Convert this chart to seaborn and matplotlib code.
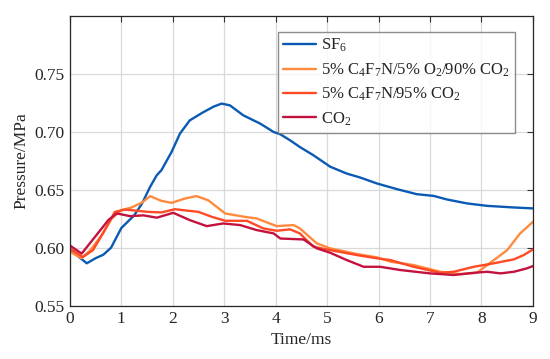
import pandas as pd
import matplotlib.pyplot as plt
import seaborn as sns

# values
sf6_t = [0, 0.15, 0.33, 0.5, 0.65, 0.8, 1.0, 1.25, 1.4, 1.56, 1.69, 1.78, 1.98, 2.14, 2.33, 2.59, 2.8,
         2.95, 3.11, 3.37, 3.70, 3.96, 4.09, 4.28, 4.47, 4.73, 5.06, 5.38, 5.64, 5.97, 6.36, 6.74, 7.07,
         7.33, 7.72, 8.11, 8.63, 9.0]
sf6_p = [0.598, 0.593, 0.5866, 0.591, 0.594, 0.600, 0.617, 0.628, 0.638, 0.6526, 0.6627, 0.667, 0.683,
         0.6986, 0.710, 0.717, 0.722, 0.7245, 0.723, 0.7144, 0.7072, 0.700, 0.698, 0.6928, 0.687, 0.680,
         0.670, 0.6641, 0.6607, 0.6555, 0.6506, 0.6463, 0.6448, 0.6417, 0.6383, 0.6362, 0.6348, 0.634]

mix_o2_t = [0, 0.23, 0.4, 0.62, 0.81, 1.0, 1.2, 1.4, 1.56, 1.78, 1.98, 2.24, 2.46, 2.69, 3.02, 3.40,
            3.63, 4.02, 4.35, 4.47, 4.80, 5.06, 5.58, 5.97, 6.23, 6.68, 7.2, 7.59, 7.91, 8.17, 8.50,
            8.75, 9.0]
mix_o2_p = [0.5966, 0.591, 0.598, 0.611, 0.625, 0.6325, 0.6348, 0.639, 0.6446, 0.6405, 0.6388, 0.6426,
            0.6446, 0.641, 0.6296, 0.6267, 0.6253, 0.6187, 0.6196, 0.6167, 0.6038, 0.5995, 0.5946,
            0.5917, 0.588, 0.5851, 0.5793, 0.5773, 0.5784, 0.587, 0.598, 0.6124, 0.6224]

mix_t = [0, 0.25, 0.45, 0.65, 0.875, 1.07, 1.52, 1.78, 2.04, 2.50, 2.76, 3.02, 3.44, 3.76, 4.02, 4.28,
         4.47, 4.73, 5.06, 5.58, 5.97, 6.23, 6.68, 7.2, 7.46, 7.85, 8.24, 8.63, 8.82, 9.0]
mix_p = [0.5995, 0.592, 0.598, 0.613, 0.631, 0.633, 0.631, 0.6305, 0.6333, 0.631, 0.6267, 0.6233,
         0.6233, 0.6167, 0.6147, 0.6159, 0.6124, 0.601, 0.598, 0.5937, 0.5909, 0.5894, 0.5836, 0.5784,
         0.5793, 0.5836, 0.5866, 0.590, 0.5937, 0.5986]

co2_t = [0, 0.23, 0.49, 0.75, 0.91, 1.17, 1.43, 1.69, 2.01, 2.33, 2.66, 2.98, 3.31, 3.63, 3.96, 4.09,
         4.54, 4.80, 5.06, 5.38, 5.71, 6.03, 6.42, 7.0, 7.46, 7.85, 8.11, 8.37, 8.63, 8.88, 9.0]
co2_p = [0.602, 0.595, 0.6095, 0.624, 0.6297, 0.6273, 0.628, 0.626, 0.6302, 0.6239, 0.6187, 0.621,
         0.6196, 0.6153, 0.6124, 0.608, 0.6072, 0.5995, 0.5957, 0.5894, 0.5836, 0.5836, 0.5808, 0.5779,
         0.5765, 0.5784, 0.5793, 0.5779, 0.5793, 0.5822, 0.5842]

labels = [r"SF$_6$",
          r"5% C$_4$F$_7$N/5% O$_2$/90% CO$_2$",
          r"5% C$_4$F$_7$N/95% CO$_2$",
          r"CO$_2$"]
colors = ["#0A5AB4", "#FF8A3D", "#FF4A26", "#C4123E"]

frames = []
for lab, t, p in zip(labels, [sf6_t, mix_o2_t, mix_t, co2_t], [sf6_p, mix_o2_p, mix_p, co2_p]):
    frames.append(pd.DataFrame({"time": t, "pressure": p, "gas": lab}))
df = pd.concat(frames, ignore_index=True)

sns.set_style("white")
plt.rcParams["font.family"] = ["Liberation Serif", "DejaVu Serif"]
plt.rcParams["mathtext.fontset"] = "custom"
plt.rcParams["mathtext.rm"] = "Liberation Serif"
plt.rcParams["mathtext.it"] = "Liberation Serif:italic"
plt.rcParams["mathtext.default"] = "rm"

fig = plt.figure(figsize=(5.5, 3.59), dpi=100)
ax = fig.add_axes([0.127, 0.1485, 0.842, 0.8065])
sns.lineplot(data=df, x="time", y="pressure", hue="gas", palette=colors, hue_order=labels,
             linewidth=1.7, ax=ax, sort=True, estimator=None)

ax.set_xlim(0, 9)
ax.set_ylim(0.55, 0.80)
ax.set_xticks(range(0, 10))
ax.set_yticks([0.55, 0.60, 0.65, 0.70, 0.75])
ax.set_yticklabels(["0.55", "0.60", "0.65", "0.70", "0.75"])
ax.grid(True, color="#d9d9d9", linewidth=0.9)
ax.tick_params(direction="in", top=True, right=True, labelsize=12.5, length=4, color="#333333")
for s in ax.spines.values():
    s.set_color("#262626")
    s.set_linewidth(0.9)
ax.set_xlabel("Time/ms", fontsize=12.5)
ax.set_ylabel("Pressure/MPa", fontsize=12.5)

leg = ax.legend(loc="upper right", bbox_to_anchor=(0.961, 0.945), borderaxespad=0, fontsize=12,
                frameon=True, fancybox=False, handlelength=2.0, handletextpad=0.3,
                labelspacing=0.42, borderpad=0.3)
leg.get_frame().set_edgecolor("#707070")
leg.get_frame().set_linewidth(1.0)
for line in leg.get_lines():
    line.set_linewidth(1.7)

plt.savefig("out.png", dpi=100)
